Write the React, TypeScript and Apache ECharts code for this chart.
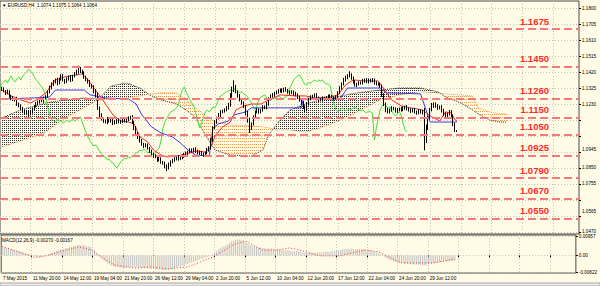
import React, { useEffect, useRef } from 'react';
import * as echarts from 'echarts';

const PIP = 10000;
const FONT = 'Liberation Sans';

// candle closes in pips (1 pip = 0.0001), bar 0 = 7 May 04:00 (H4)
const firstOpen = 11330;
const closes = [
  11325,11319,11307,11296,11302,11278,11266,11254,11260,11230,
  11218,11207,11189,11177,11183,11171,11183,11201,11218,11230,
  11242,11254,11248,11266,11272,11302,11325,11349,11361,11373,
  11355,11379,11397,11373,11361,11379,11391,11373,11397,11409,
  11420,11438,11426,11414,11391,11373,11361,11343,11331,11307,
  11278,11207,11165,11141,11129,11123,11141,11129,11135,11117,
  11123,11135,11123,11129,11141,11129,11135,11147,11153,11123,
  11088,11058,11034,11010,10993,10981,10987,10969,10951,10933,
  10921,10916,10898,10904,10886,10880,10862,10850,10868,10886,
  10898,10910,10904,10916,10910,10921,10927,10939,10945,10957,
  10951,10963,10951,10939,10945,10933,10927,10939,10957,10969,
  11016,11088,11123,11147,11165,11183,11189,11195,11207,11224,
  11278,11313,11331,11302,11278,11254,11236,11218,11177,11135,
  11088,11112,11153,11183,11195,11183,11195,11213,11207,11230,
  11260,11278,11284,11296,11302,11307,11313,11307,11319,11313,
  11302,11296,11302,11290,11284,11272,11254,11236,11213,11195,
  11230,11260,11272,11278,11284,11266,11254,11254,11266,11260,
  11266,11278,11272,11260,11266,11272,11296,11325,11349,11373,
  11385,11397,11403,11385,11361,11343,11349,11355,11355,11367,
  11373,11361,11373,11367,11373,11355,11349,11349,11337,11284,
  11230,11195,11183,11195,11207,11201,11189,11195,11201,11195,
  11207,11213,11201,11195,11189,11195,11183,11177,11189,11183,
  11177,11016,11088,11147,11195,11218,11230,11218,11207,11213,
  11189,11171,11159,11171,11183,11159,11110,11074,11064
];
// upper / lower wick lengths in pips
const hiWick = [
  12,8,10,6,14,9,7,11,5,13,8,10,6,9,12,7,10,8,6,11,
  9,7,12,8,10,6,14,9,11,8,13,7,10,12,6,9,8,11,7,10,
  14,20,12,8,10,7,9,11,6,10,12,20,8,10,7,9,12,6,10,8,
  11,7,9,8,12,10,6,9,7,11,8,10,6,9,12,7,10,8,6,9,
  8,10,7,12,9,6,8,10,14,9,7,11,8,10,6,9,12,8,7,10,
  9,7,11,8,10,6,9,8,12,10,14,9,11,8,12,10,7,9,11,13,
  16,20,40,12,9,11,8,10,7,12,14,9,10,8,11,9,7,10,8,12,
  10,9,11,7,8,12,9,10,8,11,7,9,10,8,12,9,7,10,11,9,
  12,8,10,7,9,11,8,10,9,7,11,8,10,12,9,8,10,11,9,12,
  14,10,22,9,8,11,7,10,9,12,8,10,9,7,11,8,10,9,7,8,
  10,9,12,8,10,7,9,11,8,10,9,7,11,8,10,9,12,8,10,9,
  11,30,20,14,12,18,10,9,11,8,10,12,9,8,11,10,9,8,1
];
const loWick = [
  9,11,7,12,8,10,14,6,9,11,8,12,10,7,9,13,8,10,7,9,
  8,10,7,11,9,6,10,8,12,9,14,8,10,9,11,7,10,13,8,9,
  8,10,12,9,11,8,10,12,9,14,10,12,15,9,11,8,13,9,10,12,
  9,11,8,10,12,9,11,7,10,12,14,10,12,9,11,13,8,10,12,9,
  10,8,12,9,11,10,14,18,9,10,8,11,9,10,12,8,10,9,11,8,
  10,9,12,8,11,9,10,12,8,10,9,11,8,10,9,12,8,10,9,11,
  9,10,12,8,11,9,10,12,14,16,30,12,9,10,8,11,9,10,8,9,
  10,8,9,11,8,10,9,12,8,10,9,11,8,10,9,12,10,11,12,14,
  9,10,8,11,9,10,12,8,10,9,11,8,10,9,8,10,9,8,10,9,
  10,8,9,11,10,9,12,8,10,9,11,8,10,9,8,10,9,11,10,12,
  12,14,10,9,11,8,10,12,9,10,8,11,9,10,12,9,10,11,9,10,
  9,61,18,12,10,9,11,10,12,9,10,11,12,10,9,11,12,10,0
];

// Ichimoku lines: [bar, pips]
const tenkan = [
  [1,11313],[6,11278],[11,11254],[16,11236],[19,11254],[24,11296],[27,11343],[29,11373],[34,11391],
  [40,11403],[43,11409],[46,11373],[49,11325],[53,11266],[55,11230],[59,11165],[63,11129],[67,11123],
  [70,11112],[73,11034],[77,11005],[80,10957],[84,10927],[87,10916],[92,10921],[97,10933],[102,10951],
  [107,10945],[110,10975],[112,11040],[116,11094],[120,11123],[123,11195],[127,11218],[131,11230],
  [136,11230],[140,11254],[146,11284],[154,11278],[159,11278],[164,11266],[172,11272],[176,11284],
  [180,11343],[184,11373],[190,11367],[197,11367],[201,11302],[204,11254],[209,11218],[214,11207],
  [220,11195],[224,11159],[229,11129],[232,11183],[235,11177],[237,11135],[238,11129]
];
const kijun = [
  [1,11260],[18,11266],[26,11272],[29,11313],[44,11313],[47,11284],[55,11266],[67,11260],[71,11230],
  [74,11165],[79,11094],[84,11058],[90,11034],[94,10999],[98,10957],[102,10927],[109,10921],[111,11088],
  [114,11112],[119,11129],[122,11165],[128,11183],[131,11207],[157,11207],[158,11260],[177,11260],
  [181,11325],[198,11325],[201,11296],[219,11290],[221,11224],[224,11123],[238,11123]
];
// cloud (already shifted forward): bars, Senkou A, Senkou B (pips)
const cloudBars = [1,11,24,34,44,50,53,58,66,73,78,84,92,97,102,107,112,120,131,137,140,145,151,159,167,175,183,190,198,208,219,228,232,240,246,249,255,260,264];
const spanA = [11147,11195,11236,11254,11266,11260,11278,11337,11355,11325,11284,11254,11230,11195,11147,11046,10957,10927,10921,10957,11046,11123,11195,11230,11254,11272,11290,11302,11313,11325,11325,11302,11272,11236,11195,11171,11135,11123,11123];
const spanB = [10975,11011,11064,11147,11207,11248,11254,11260,11266,11278,11290,11296,11296,11254,11207,11165,11123,11106,11100,11094,11088,11076,11076,11064,11088,11123,11165,11207,11254,11284,11302,11296,11290,11284,11278,11207,11183,11171,11171];

// MACD main (histogram) per bar, in 1e-5
const macdMain = [
  420,420,400,370,350,320,300,270,250,220,
  200,170,140,110,80,50,20,-20,-50,-80,
  -90,-80,-50,-20,20,60,100,150,190,230,
  250,280,300,320,350,370,400,420,450,470,
  500,520,520,520,500,470,450,400,320,250,
  150,50,-80,-170,-250,-320,-400,-450,-500,-540,
  -570,-590,-600,-620,-620,-620,-600,-600,-590,-570,
  -570,-590,-600,-600,-620,-620,-620,-640,-650,-670,
  -670,-690,-690,-700,-710,-720,-720,-720,-700,-690,
  -670,-640,-610,-580,-550,-520,-490,-450,-420,-390,
  -350,-320,-290,-250,-220,-190,-150,-120,-90,-50,
  0,70,150,220,300,350,400,450,500,570,
  640,700,740,770,790,790,770,740,670,600,
  540,500,470,450,420,400,390,370,370,350,
  350,350,340,330,320,300,300,290,280,270,
  250,250,230,220,200,200,190,170,150,120,
  120,130,140,150,150,150,140,150,150,160,
  170,180,180,190,200,220,230,250,270,300,
  310,320,330,330,330,320,320,320,320,310,
  300,290,280,260,240,220,190,150,100,40,
  -20,-80,-130,-180,-220,-270,-300,-330,-350,-370,
  -380,-390,-400,-410,-420,-440,-440,-450,-450,-460,
  -470,-500,-500,-470,-440,-420,-410,-400,-390,-370,
  -350,-330,-310,-300,-290,-285,-278,-274,-270
];
// MACD signal [bar, 1e-5]
const macdSignal = [
  [0.7,440],[17.8,-100],[23,-40],[35.5,300],[40.7,420],[47.4,270],[52.6,-75],[59.4,-470],[69.8,-620],
  [78.6,-570],[87.4,-670],[92.6,-620],[97.8,-570],[104.6,-320],[111.3,-75],[121.7,520],[128,720],
  [132.1,520],[137.3,250],[144.6,270],[151.3,370],[156.5,270],[161.7,125],[166.9,-25],[177.3,-25],
  [184,125],[191.3,270],[198,175],[203.3,-75],[210,-370],[217.3,-370],[225.6,-370],[232.9,-270],[238.1,-167]
];

const levels = [1.1675, 1.1450, 1.1260, 1.1150, 1.1050, 1.0925, 1.0790, 1.0670, 1.0550];
const levelTexts = ['1.1675', '1.1450', '1.1260', '1.1150', '1.1050', '1.0925', '1.0790', '1.0670', '1.0550'];
const lastPrice = 1.1064;
const lastPriceText = '1.1064';

const priceTicks = [1.1800,1.1705,1.1610,1.1515,1.1420,1.1325,1.1230,1.1135,1.1040,1.0945,1.0850,1.0755,1.0660,1.0565,1.0470];
const priceTickLabels = [1.1800,1.1705,1.1610,1.1515,1.1420,1.1325,1.1230,1.0945,1.0850,1.0755,1.0565,1.0470];
// labels nudged upward (as the terminal does next to a price tag)
const liftedLabels = ['1.0945', '1.0565'];
const macdTicks = [0.00957, 0, -0.00822];
const macdTickLabels = ['0.00957', '0.00', '-0.00822'];

const xLabelBars = [0.3,16,32,48,64,80,96,112,128,144,160,176,192,208,224];
const xLabelTexts = ['7 May 2015','11 May 20:00','14 May 12:00','19 May 04:00','21 May 20:00','26 May 12:00','29 May 04:00','2 Jun 20:00','5 Jun 12:00','10 Jun 04:00','12 Jun 20:00','17 Jun 12:00','22 Jun 04:00','24 Jun 20:00','29 Jun 12:00'];
const xGridBars = [16,32,48,64,80,96,112,128,144,160,176,192,208,224,240,256,272,288];

const titleText = '\u25BC EURUSD,H4  1.1074 1.1075 1.1064 1.1064';
const macdTitle = 'MACD(12,26,9) -0.00270 -0.00167';

const dotPattern = (c: string, w: number, h: number) => ({
  image:
    'data:image/svg+xml;charset=utf-8,' +
    encodeURIComponent(
      `<svg xmlns="http://www.w3.org/2000/svg" width="${w}" height="${h}"><rect x="0" y="0" width="1" height="1" fill="${c}"/></svg>`
    ),
  repeat: 'repeat',
  imageWidth: w,
  imageHeight: h,
});

export default function App() {
  const ref = useRef<HTMLDivElement>(null);
  useEffect(() => {
    if (!ref.current) return;
    const chart = echarts.init(ref.current, null, { renderer: 'svg' });

    const candles = closes.map((c, b) => {
      const o = b === 0 ? firstOpen : closes[b - 1];
      const h = Math.max(o, c) + (hiWick[b] ?? 8);
      const l = Math.min(o, c) - (loWick[b] ?? 8);
      return [b, o / PIP, c / PIP, l / PIP, h / PIP];
    });
    const chikou = closes.slice(26).map((c, i) => [i, c / PIP]);
    const segs = [] as number[][];
    for (let i = 0; i < cloudBars.length - 1; i++) {
      segs.push([cloudBars[i], cloudBars[i + 1], spanA[i] / PIP, spanA[i + 1] / PIP, spanB[i] / PIP, spanB[i + 1] / PIP]);
    }
    const blackFill = dotPattern('#303030', 2, 2);
    const orangeFill = dotPattern('#f29a45', 2, 3);

    const xMin = 0.16, xMax = 301.46;
    const xLabelFmt = (v: number) => {
      let best = 0;
      for (let i = 0; i < xLabelBars.length; i++) if (Math.abs(xLabelBars[i] - v) < Math.abs(xLabelBars[best] - v)) best = i;
      return xLabelTexts[best];
    };
    const small = { fontSize: 4.6, fontFamily: FONT, color: '#000' };
    const gridLine = { show: true, lineStyle: { color: '#c4c4bc', type: [1, 2] as any, width: 1 } };

    const option: any = {
      animation: false,
      backgroundColor: '#fffbe6',
      title: [
        { text: titleText, left: 2, top: 2.5, padding: 0, textStyle: { ...small, fontWeight: 'normal' } },
        { text: macdTitle, left: 2, top: 238, padding: 0, textStyle: { ...small, fontWeight: 'normal' } },
      ],
      grid: [
        { left: -1, top: 1, width: 580, height: 233, show: true, borderColor: '#4a4a4a', borderWidth: 1 },
        { left: -1, top: 235, width: 580, height: 38, show: true, borderColor: '#4a4a4a', borderWidth: 1 },
      ],
      xAxis: [
        {
          type: 'value', gridIndex: 0, min: xMin, max: xMax,
          axisLine: { show: false },
          axisTick: { show: false, customValues: xGridBars },
          axisLabel: { show: false },
          splitLine: gridLine,
        },
        {
          type: 'value', gridIndex: 1, min: xMin, max: xMax,
          axisLine: { show: false },
          axisTick: { show: true, length: 2, customValues: xGridBars, lineStyle: { color: '#000' } },
          axisLabel: { show: true, customValues: xLabelBars, formatter: xLabelFmt, align: 'left', margin: 3, padding: [0, 0, 0, 1.5], ...small },
          splitLine: gridLine,
        },
      ],
      yAxis: [
        {
          type: 'value', gridIndex: 0, position: 'right', min: 1.045812, max: 1.184157,
          axisLine: { show: false },
          axisTick: { show: true, length: 2, customValues: priceTicks, lineStyle: { color: '#000' } },
          axisLabel: {
            show: true, customValues: priceTickLabels, margin: 3, ...small,
            formatter: (v: number) => {
              const s = v.toFixed(4);
              if (s === liftedLabels[0]) return '{a|' + s + '}';
              if (s === liftedLabels[1]) return '{b|' + s + '}';
              return s;
            },
            rich: {
              a: { ...small, padding: [0, 0, 5, 0] },
              b: { ...small, padding: [0, 0, 8, 0] },
            },
          },
          splitLine: gridLine,
        },
        {
          type: 'value', gridIndex: 1, position: 'right', min: -0.0087, max: 0.0101,
          axisLine: { show: false },
          axisTick: { show: true, length: 2, customValues: macdTicks, lineStyle: { color: '#000' } },
          axisLabel: {
            show: true, customValues: macdTicks, margin: 3, ...small,
            formatter: (v: number) => macdTickLabels[macdTicks.findIndex((t) => Math.abs(t - v) < 1e-7)] ?? '',
          },
          splitLine: gridLine,
        },
      ],
      series: [
        {
          type: 'custom', name: 'cloud', xAxisIndex: 0, yAxisIndex: 0, z: 1, silent: true,
          data: segs,
          encode: { x: [0, 1], y: [2, 3, 4, 5] },
          renderItem: (params: any, api: any) => {
            const x0 = api.value(0), x1 = api.value(1), a0 = api.value(2), a1 = api.value(3), b0 = api.value(4), b1 = api.value(5);
            const d0 = a0 - b0, d1 = a1 - b1;
            const mk = (pts: number[][], up: boolean) => ({
              type: 'polygon',
              shape: { points: pts.map((p) => api.coord(p)) },
              style: { fill: up ? blackFill : orangeFill, stroke: null },
              silent: true,
            });
            const children = [] as any[];
            if (d0 * d1 >= 0) {
              children.push(mk([[x0, a0], [x1, a1], [x1, b1], [x0, b0]], d0 + d1 >= 0));
            } else {
              const t = d0 / (d0 - d1);
              const xc = x0 + t * (x1 - x0), yc = a0 + t * (a1 - a0);
              children.push(mk([[x0, a0], [xc, yc], [x0, b0]], d0 > 0));
              children.push(mk([[xc, yc], [x1, a1], [x1, b1]], d1 > 0));
            }
            return { type: 'group', children };
          },
        },
        {
          type: 'line', name: 'Senkou A', xAxisIndex: 0, yAxisIndex: 0, z: 2, symbol: 'none', silent: true,
          data: cloudBars.map((b, i) => [b, spanA[i] / PIP]),
          lineStyle: { color: '#333', width: 1, type: [1, 1] },
        },
        {
          type: 'line', name: 'Senkou B', xAxisIndex: 0, yAxisIndex: 0, z: 2, symbol: 'none', silent: true,
          data: cloudBars.map((b, i) => [b, spanB[i] / PIP]),
          lineStyle: { color: '#f09a48', width: 1, type: [1, 1] },
        },
        {
          type: 'line', name: 'Chikou', xAxisIndex: 0, yAxisIndex: 0, z: 3, symbol: 'none', silent: true,
          data: chikou, lineStyle: { color: '#3fe03f', width: 1 },
        },
        {
          type: 'line', name: 'Kijun', xAxisIndex: 0, yAxisIndex: 0, z: 3, symbol: 'none', silent: true,
          data: kijun.map(([b, v]) => [b, v / PIP]), lineStyle: { color: '#3a3af0', width: 1 },
        },
        {
          type: 'line', name: 'Tenkan', xAxisIndex: 0, yAxisIndex: 0, z: 3, symbol: 'none', silent: true,
          data: tenkan.map(([b, v]) => [b, v / PIP]), lineStyle: { color: '#f22a2a', width: 1 },
        },
        {
          type: 'candlestick', name: 'EURUSD', xAxisIndex: 0, yAxisIndex: 0, z: 4, silent: true,
          data: candles, encode: { x: 0, y: [1, 2, 3, 4] }, barWidth: 1,
          itemStyle: { color: '#ffffff', color0: '#000000', borderColor: '#000000', borderColor0: '#000000', borderWidth: 1 },
        },
        {
          type: 'line', name: 'levels', xAxisIndex: 0, yAxisIndex: 0, z: 5, data: [], silent: true,
          markLine: {
            silent: true, symbol: 'none', animation: false, precision: 4,
            lineStyle: { color: '#f67a7a', width: 2, type: [8, 4] },
            label: {
              show: true, position: 'insideEndTop', distance: [30, 3],
              color: '#ff2a2a', fontSize: 9.5, fontWeight: 'bold', fontFamily: FONT,
              formatter: (p: any) => p.name,
            },
            data: levels.map((v, i) => ({ yAxis: v, name: levelTexts[i] })),
          },
        },
        {
          type: 'line', name: 'levelTags', xAxisIndex: 0, yAxisIndex: 0, z: 6, data: [], silent: true,
          markLine: {
            silent: true, symbol: 'none', animation: false, precision: 4,
            lineStyle: { width: 0, opacity: 0 },
            label: {
              show: true, position: 'end', distance: [1, 0],
              backgroundColor: '#ff1010', color: '#fff', fontSize: 4.6, fontFamily: FONT, padding: [0.5, 2, 0.5, 2],
              formatter: (p: any) => p.name,
            },
            data: levels.map((v, i) => ({ yAxis: v, name: levelTexts[i] })),
          },
        },
        {
          type: 'line', name: 'bid', xAxisIndex: 0, yAxisIndex: 0, z: 7, data: [], silent: true,
          markLine: {
            silent: true, symbol: 'none', animation: false, precision: 4,
            lineStyle: { width: 0, opacity: 0 },
            label: {
              show: true, position: 'end', distance: [1, 0], verticalAlign: 'bottom',
              backgroundColor: '#000', color: '#fff', fontSize: 4.6, fontFamily: FONT, padding: [0.5, 2, 0.5, 2],
              formatter: (p: any) => p.name,
            },
            data: [{ yAxis: lastPrice, name: lastPriceText }],
          },
        },
        {
          type: 'bar', name: 'MACD', xAxisIndex: 1, yAxisIndex: 1, z: 2, silent: true,
          data: macdMain.map((v, b) => [b, v / 1e5]), barWidth: 1,
          itemStyle: { color: '#c4c4c4' },
        },
        {
          type: 'line', name: 'Signal', xAxisIndex: 1, yAxisIndex: 1, z: 3, symbol: 'none', silent: true,
          data: macdSignal.map(([b, v]) => [b, v / 1e5]),
          lineStyle: { color: '#ff3434', width: 1, type: [1, 2] },
        },
      ],
      graphic: [
        { type: 'rect', shape: { x: 0, y: 283, width: 600, height: 3 }, style: { fill: '#ececec', stroke: '#a8a8a8', lineWidth: 1 }, silent: true },
      ],
    };
    chart.setOption(option);
    return () => chart.dispose();
  }, []);
  return <div ref={ref} style={{ position: 'fixed', left: 0, top: 0, width: 600, height: 286 }} />;
}
